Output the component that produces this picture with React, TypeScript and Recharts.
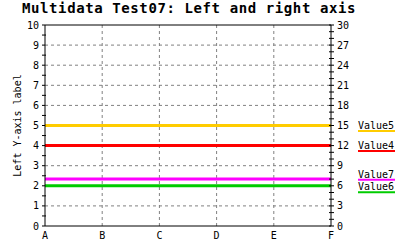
import { LabelList, Line, LineChart, ReferenceLine, XAxis, YAxis } from 'recharts';

const categories = ['A', 'B', 'C', 'D', 'E', 'F'];
const value4 = [12, 12, 12, 12, 12, 12];
const value5 = [15, 15, 15, 15, 15, 15];
const value6 = [6, 6, 6, 6, 6, 6];
const value7 = [7, 7, 7, 7, 7, 7];
const leftTicks = [0, 1, 2, 3, 4, 5, 6, 7, 8, 9, 10];
const leftAllTicks = [0, 0.5, 1, 1.5, 2, 2.5, 3, 3.5, 4, 4.5, 5, 5.5, 6, 6.5, 7, 7.5, 8, 8.5, 9, 9.5, 10];
const rightAllTicks = [0, 1, 2, 3, 4, 5, 6, 7, 8, 9, 10, 11, 12, 13, 14, 15, 16, 17, 18, 19, 20, 21, 22, 23, 24, 25, 26, 27, 28, 29, 30];

const data = categories.map((name, i) => ({
  name,
  v4: value4[i],
  v5: value5[i],
  v6: value6[i],
  v7: value7[i],
}));

// draw order + legend nudge (px, relative to the line)
const series = [
  { key: 'v6', label: 'Value6', color: '#00cc00', shift: 6.5 },
  { key: 'v7', label: 'Value7', color: '#ff00ff', shift: 0.7 },
  { key: 'v4', label: 'Value4', color: '#ff0000', shift: 5.5 },
  { key: 'v5', label: 'Value5', color: '#ffcc00', shift: 5.5 },
];

const FONT = '"DejaVu Sans Mono", "Liberation Mono", monospace';
const tickStyle = { fontSize: 10, fill: '#000', fontFamily: FONT };
const gridLine = { stroke: '#808080', strokeDasharray: '3 3' };

// label only the major values, short marks for the rest
function LeftTick({ x, y, payload }: any) {
  const v = payload.value;
  const major = Number.isInteger(v);
  const ax = x + 6;
  return (
    <g>
      <line x1={ax - 3} x2={major ? ax : ax + 1} y1={y} y2={y} stroke="#000" />
      {major && (
        <text x={x} y={y} textAnchor="end" dominantBaseline="central" {...tickStyle}>
          {v}
        </text>
      )}
    </g>
  );
}

function RightTick({ x, y, payload }: any) {
  const v = payload.value;
  const major = v % 3 === 0;
  const ax = x - 6;
  return (
    <g>
      <line x1={ax - 2} x2={ax + 3} y1={y} y2={y} stroke="#000" />
      {major && (
        <text x={x} y={y} textAnchor="start" dominantBaseline="central" {...tickStyle}>
          {v}
        </text>
      )}
    </g>
  );
}

function legendLabel(label: string, color: string, shift: number) {
  return (props: any) => {
    if (props.index !== categories.length - 1) return null;
    const x = Number(props.x) + 27;
    const y = Number(props.y) + shift;
    return (
      <g>
        <text x={x} y={y - 2} fontSize={10} fontFamily={FONT} fill="#000">
          {label}
        </text>
        <line x1={x} x2={x + 37} y1={y} y2={y} stroke={color} strokeWidth={2} />
      </g>
    );
  };
}

export default function App() {
  return (
    <div style={{ position: 'absolute', left: 0, top: 0, width: 400, height: 250, background: '#fff' }}>
      <div
        style={{
          position: 'absolute',
          left: 22,
          top: 0,
          fontFamily: FONT,
          fontWeight: 'bold',
          fontSize: 14,
          letterSpacing: 0.6,
          lineHeight: '17px',
          whiteSpace: 'nowrap',
        }}
      >
        Multidata Test07: Left and right axis
      </div>
      <LineChart width={400} height={250} data={data} margin={{ top: 25, right: 39, left: 0, bottom: 0 }}>
        <XAxis
          dataKey="name"
          tickLine={false}
          tickSize={4}
          tickMargin={2}
          height={24}
          tick={tickStyle}
          axisLine={{ stroke: '#000' }}
        />
        <YAxis
          yAxisId="left"
          orientation="left"
          width={45}
          type="number"
          domain={[0, 10]}
          allowDataOverflow
          ticks={leftAllTicks}
          interval={0}
          tickSize={3}
          tickMargin={3}
          tick={<LeftTick />}
          tickLine={false}
          axisLine={{ stroke: '#000' }}
          label={{
            content: ({ viewBox }: any) => {
              const cy = viewBox.y + viewBox.height / 2;
              return (
                <text
                  x={17}
                  y={cy}
                  transform={`rotate(-90, 17, ${cy})`}
                  textAnchor="middle"
                  dominantBaseline="central"
                  fontSize={10}
                  fontFamily={FONT}
                  fill="#000"
                >
                  Left Y-axis label
                </text>
              );
            },
          }}
        />
        <YAxis
          yAxisId="right"
          orientation="right"
          width={30}
          type="number"
          domain={[0, 30]}
          allowDataOverflow
          ticks={rightAllTicks}
          interval={0}
          tickSize={3}
          tickMargin={3}
          tick={<RightTick />}
          tickLine={false}
          axisLine={{ stroke: '#000' }}
        />
        {categories.slice(1, -1).map((c) => (
          <ReferenceLine key={c} yAxisId="left" x={c} {...gridLine} />
        ))}
        {leftTicks.slice(1, -1).map((t) => (
          <ReferenceLine key={t} yAxisId="left" y={t} {...gridLine} />
        ))}
        <ReferenceLine yAxisId="left" y={10} stroke="#000" />
        {series.map((s) => (
          <Line
            key={s.key}
            yAxisId="right"
            dataKey={s.key}
            stroke={s.color}
            strokeWidth={3}
            dot={false}
            isAnimationActive={false}
          >
            <LabelList dataKey={s.key} content={legendLabel(s.label, s.color, s.shift)} />
          </Line>
        ))}
      </LineChart>
    </div>
  );
}
